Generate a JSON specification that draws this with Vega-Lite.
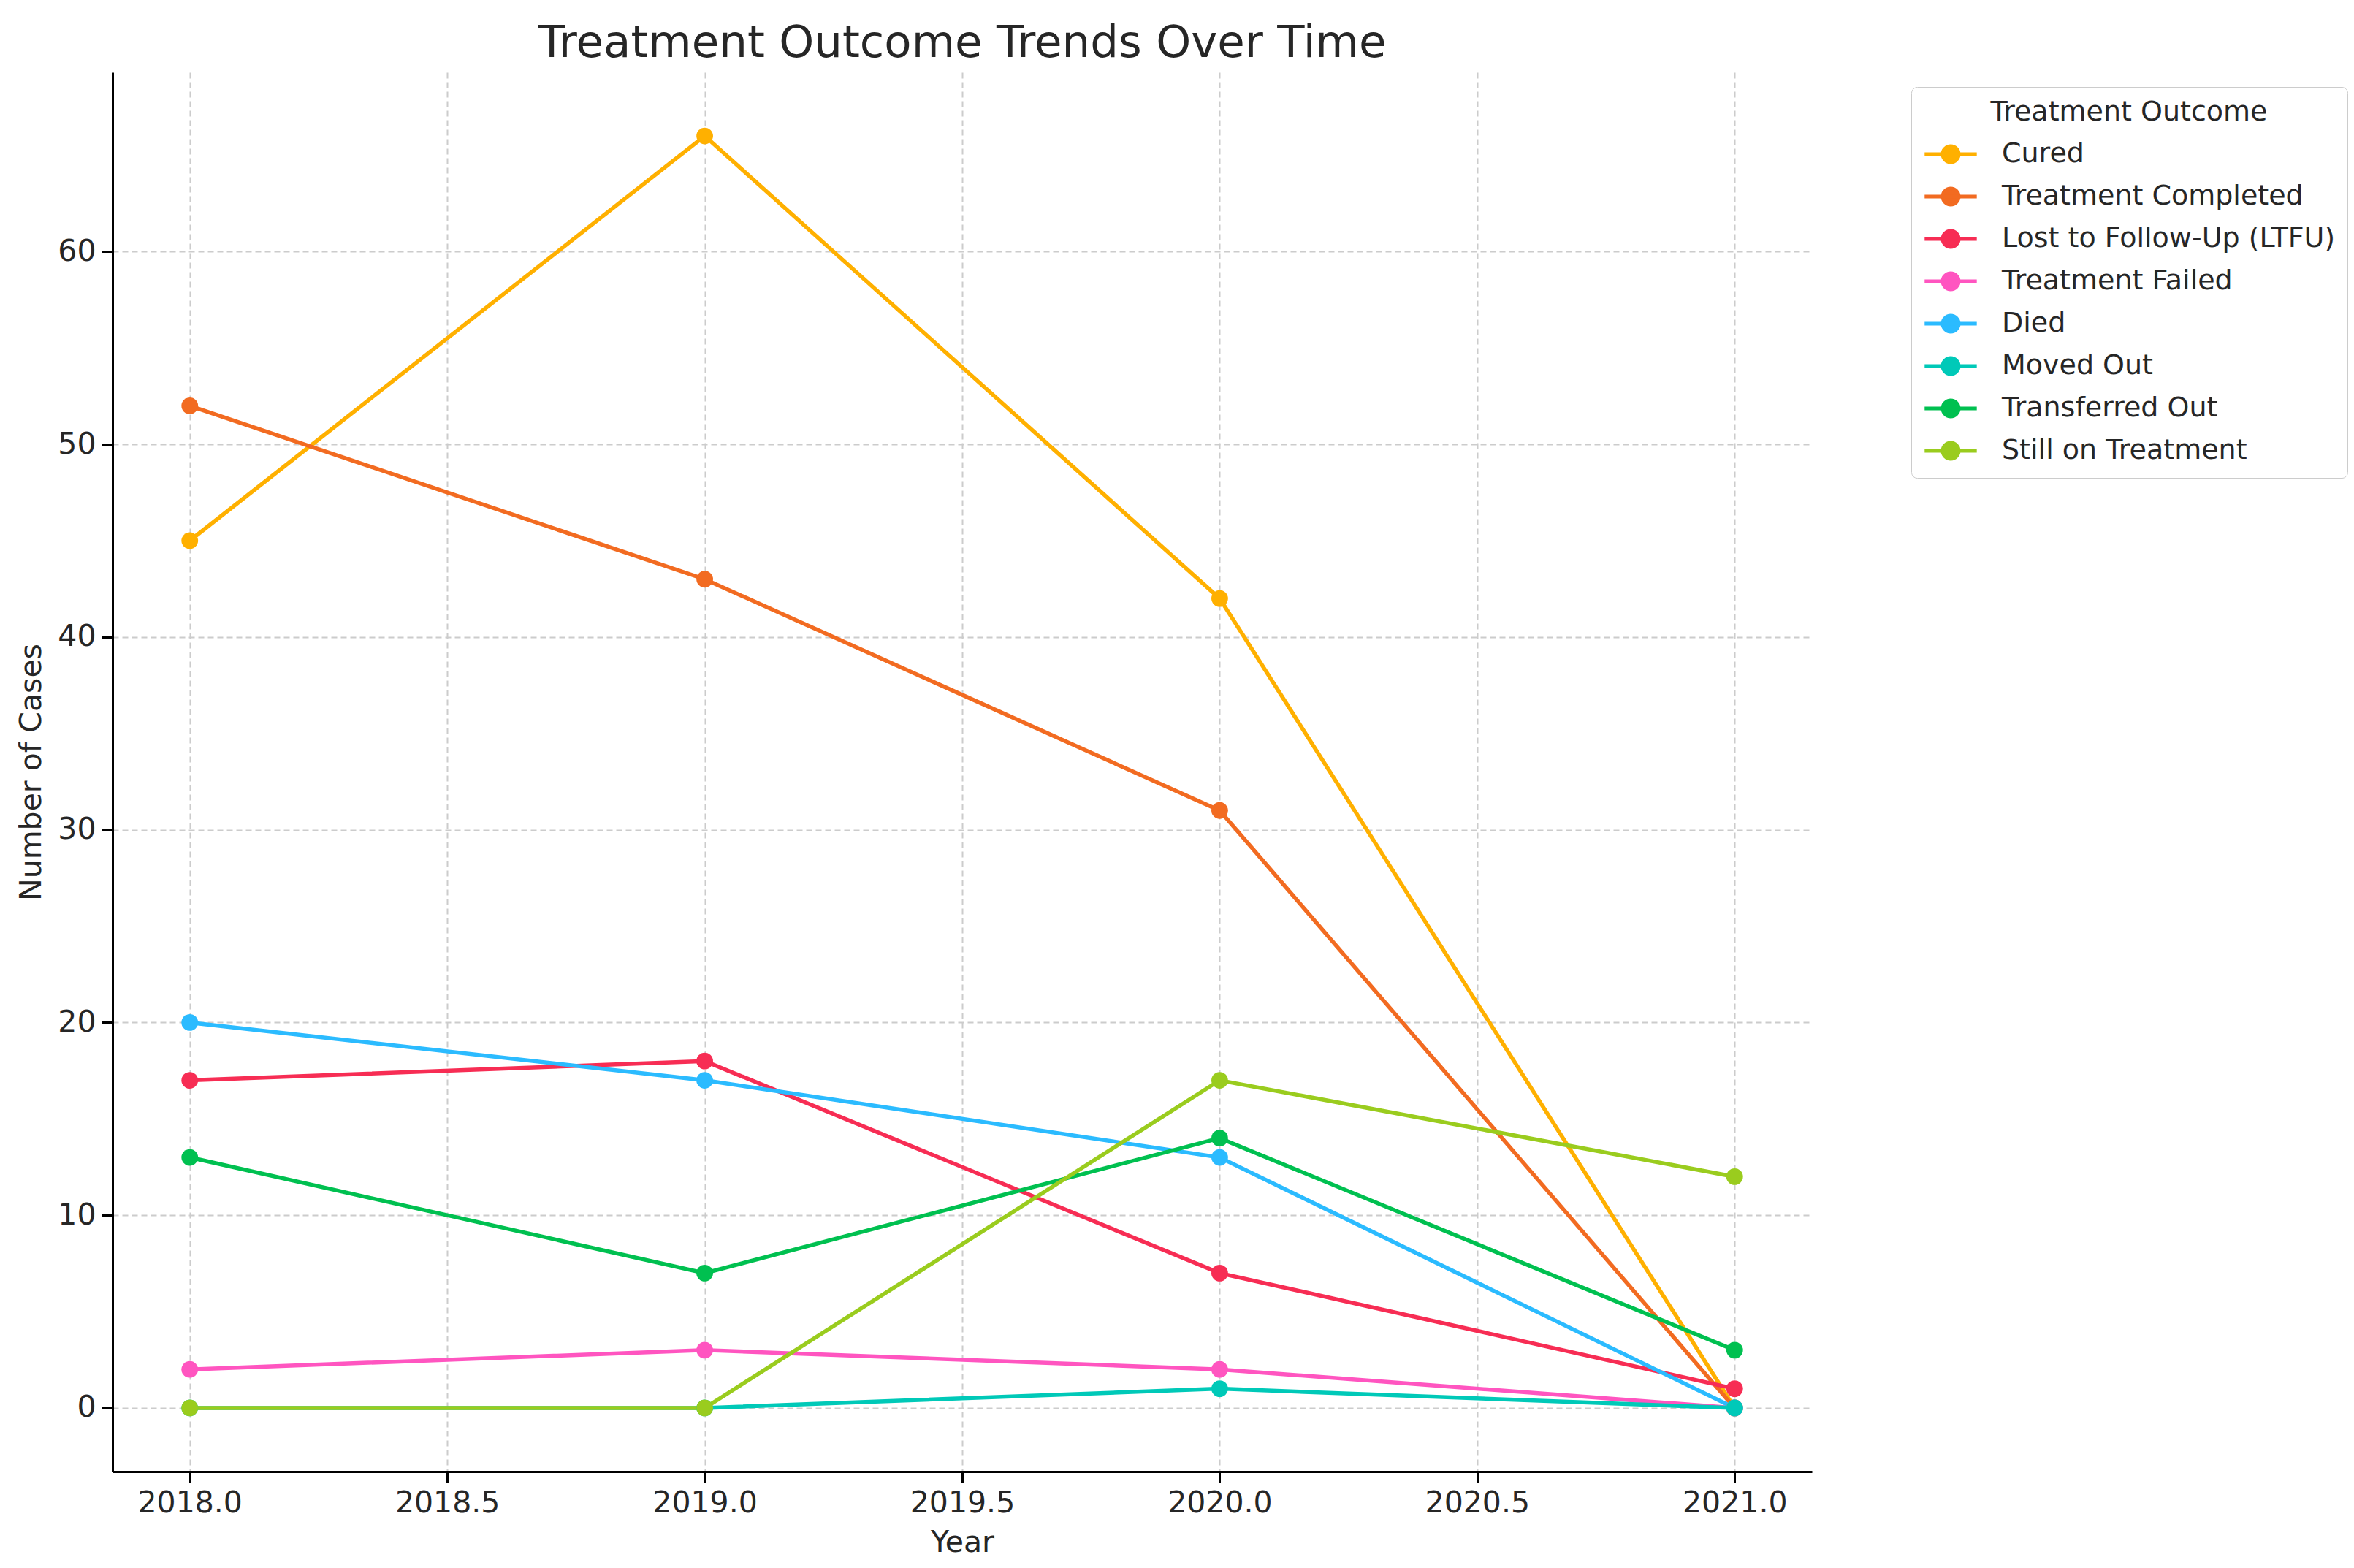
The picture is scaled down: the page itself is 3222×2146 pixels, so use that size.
{
  "$schema": "https://vega.github.io/schema/vega-lite/v6.json",
  "autosize": {"type": "none"},
  "width": 2326,
  "height": 1915,
  "padding": {"left": 154, "top": 99, "right": 742, "bottom": 132},
  "background": "white",
  "config": {
    "view": {"stroke": null},
    "font": "DejaVu Sans",
    "axis": {
      "labelFont": "DejaVu Sans",
      "titleFont": "DejaVu Sans",
      "labelFontSize": 41,
      "titleFontSize": 41,
      "titleFontWeight": "normal",
      "labelColor": "#262626",
      "titleColor": "#262626",
      "domainColor": "#000000",
      "domainWidth": 3,
      "tickColor": "#000000",
      "tickWidth": 3,
      "tickSize": 15,
      "grid": true,
      "gridColor": "#cccccc",
      "gridWidth": 2,
      "gridDash": [8, 5]
    }
  },
  "title": {
    "text": "Treatment Outcome Trends Over Time",
    "font": "DejaVu Sans",
    "fontSize": 61,
    "fontWeight": "normal",
    "color": "#262626",
    "anchor": "middle",
    "offset": 8
  },
  "data": {
    "values": [
      {"Year": 2018, "Outcome": "Cured", "Cases": 45},
      {"Year": 2019, "Outcome": "Cured", "Cases": 66},
      {"Year": 2020, "Outcome": "Cured", "Cases": 42},
      {"Year": 2021, "Outcome": "Cured", "Cases": 0},
      {"Year": 2018, "Outcome": "Treatment Completed", "Cases": 52},
      {"Year": 2019, "Outcome": "Treatment Completed", "Cases": 43},
      {"Year": 2020, "Outcome": "Treatment Completed", "Cases": 31},
      {"Year": 2021, "Outcome": "Treatment Completed", "Cases": 0},
      {"Year": 2018, "Outcome": "Lost to Follow-Up (LTFU)", "Cases": 17},
      {"Year": 2019, "Outcome": "Lost to Follow-Up (LTFU)", "Cases": 18},
      {"Year": 2020, "Outcome": "Lost to Follow-Up (LTFU)", "Cases": 7},
      {"Year": 2021, "Outcome": "Lost to Follow-Up (LTFU)", "Cases": 1},
      {"Year": 2018, "Outcome": "Treatment Failed", "Cases": 2},
      {"Year": 2019, "Outcome": "Treatment Failed", "Cases": 3},
      {"Year": 2020, "Outcome": "Treatment Failed", "Cases": 2},
      {"Year": 2021, "Outcome": "Treatment Failed", "Cases": 0},
      {"Year": 2018, "Outcome": "Died", "Cases": 20},
      {"Year": 2019, "Outcome": "Died", "Cases": 17},
      {"Year": 2020, "Outcome": "Died", "Cases": 13},
      {"Year": 2021, "Outcome": "Died", "Cases": 0},
      {"Year": 2018, "Outcome": "Moved Out", "Cases": 0},
      {"Year": 2019, "Outcome": "Moved Out", "Cases": 0},
      {"Year": 2020, "Outcome": "Moved Out", "Cases": 1},
      {"Year": 2021, "Outcome": "Moved Out", "Cases": 0},
      {"Year": 2018, "Outcome": "Transferred Out", "Cases": 13},
      {"Year": 2019, "Outcome": "Transferred Out", "Cases": 7},
      {"Year": 2020, "Outcome": "Transferred Out", "Cases": 14},
      {"Year": 2021, "Outcome": "Transferred Out", "Cases": 3},
      {"Year": 2018, "Outcome": "Still on Treatment", "Cases": 0},
      {"Year": 2019, "Outcome": "Still on Treatment", "Cases": 0},
      {"Year": 2020, "Outcome": "Still on Treatment", "Cases": 17},
      {"Year": 2021, "Outcome": "Still on Treatment", "Cases": 12}
    ]
  },
  "mark": {
    "type": "line",
    "strokeWidth": 5.5,
    "point": {"filled": true, "size": 520, "opacity": 1}
  },
  "encoding": {
    "x": {
      "field": "Year",
      "type": "quantitative",
      "scale": {"domain": [2017.85, 2021.15], "nice": false, "zero": false},
      "axis": {
        "title": "Year",
        "values": [2018, 2018.5, 2019, 2019.5, 2020, 2020.5, 2021],
        "format": ".1f",
        "labelPadding": 8,
        "titlePadding": 14
      }
    },
    "y": {
      "field": "Cases",
      "type": "quantitative",
      "scale": {"domain": [-3.3, 69.3], "nice": false, "zero": false},
      "axis": {
        "title": "Number of Cases",
        "values": [0, 10, 20, 30, 40, 50, 60],
        "labelPadding": 8,
        "titlePadding": 14
      }
    },
    "color": {
      "field": "Outcome",
      "type": "nominal",
      "sort": null,
      "scale": {
        "domain": ["Cured", "Treatment Completed", "Lost to Follow-Up (LTFU)", "Treatment Failed", "Died", "Moved Out", "Transferred Out", "Still on Treatment"],
        "range": ["#FFB000", "#F26B21", "#F72D54", "#FF55C0", "#2BBBFF", "#00C9B8", "#00C050", "#9ACC1E"]
      },
      "legend": {
        "title": "Treatment Outcome",
        "orient": "none",
        "legendX": 2462,
        "legendY": 20,
        "titleFont": "DejaVu Sans",
        "titleFontSize": 38,
        "titleFontWeight": "normal",
        "titleColor": "#262626",
        "titleAnchor": "middle",
        "titleLimit": 1000,
        "titlePadding": 10,
        "labelFont": "DejaVu Sans",
        "labelFontSize": 38,
        "labelColor": "#262626",
        "labelOffset": 42,
        "labelLimit": 1000,
        "symbolType": "M-1.4,0L1.4,0M-0.43,0A0.43,0.43 0 1,0 0.43,0A0.43,0.43 0 1,0 -0.43,0Z",
        "symbolSize": 2601,
        "symbolOffset": 10,
        "symbolStrokeWidth": 5,
        "rowPadding": 9,
        "padding": 16,
        "strokeColor": "#cccccc",
        "fillColor": "white",
        "cornerRadius": 8,
        "encode": {
          "symbols": {
            "update": {
              "fill": {"scale": "color", "field": "value"},
              "stroke": {"scale": "color", "field": "value"},
              "opacity": {"value": 1}
            }
          }
        }
      }
    }
  }
}
